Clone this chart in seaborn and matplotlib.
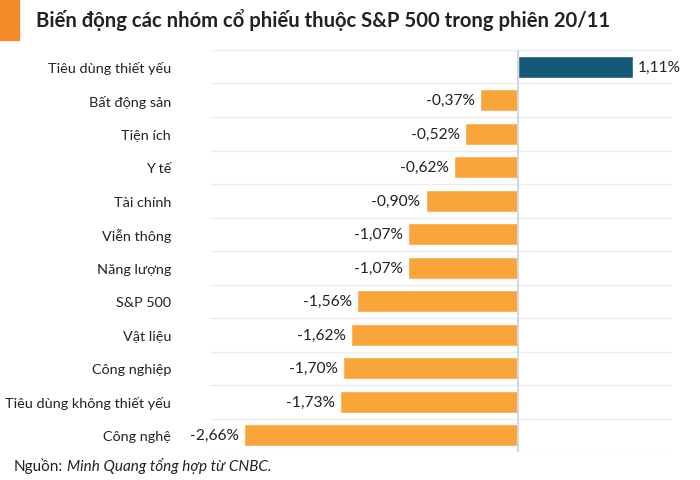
import pandas as pd
import matplotlib.pyplot as plt
import seaborn as sns
from matplotlib.patches import Rectangle

nhom = ['Tiêu dùng thiết yếu', 'Bất động sản', 'Tiện ích', 'Y tế', 'Tài chính',
        'Viễn thông', 'Năng lượng', 'S&P 500', 'Vật liệu', 'Công nghiệp',
        'Tiêu dùng không thiết yếu', 'Công nghệ']
bien_dong = [1.11, -0.37, -0.52, -0.62, -0.90, -1.07, -1.07, -1.56, -1.62, -1.70, -1.73, -2.66]

df = pd.DataFrame({'Nhóm': nhom, 'Biến động': bien_dong})
df['Dấu'] = ['tang' if v > 0 else 'giam' for v in df['Biến động']]

sns.set_style('white')
plt.rcParams['font.family'] = ['Lato', 'DejaVu Sans']

fig = plt.figure(figsize=(7, 4.81), dpi=100)
ax = fig.add_axes([0.30, 0.058, 0.66, 0.836])

sns.barplot(data=df, y='Nhóm', x='Biến động', hue='Dấu', orient='h',
            palette={'tang': '#135A78', 'giam': '#F9A53A'}, width=0.65,
            saturation=1, dodge=False, legend=False, ax=ax)

for i, v in enumerate(df['Biến động']):
    nhan = f'{v:.2f}%'.replace('.', ',')
    if v > 0:
        ax.text(v + 0.05, i, nhan, va='center', ha='left', fontsize=11.2, color='#222222')
    else:
        ax.text(v - 0.05, i, nhan, va='center', ha='right', fontsize=11.2, color='#222222')

ax.set_xlim(-2.99, 1.49)
ax.set_ylim(len(nhom) - 0.5, -0.5)
for k in range(len(nhom) + 1):
    ax.axhline(k - 0.5, color='#EDEEF1', lw=1, zorder=0)
ax.axvline(0, color='#D3D8E0', lw=1.5, zorder=3)

ax.set_xticks([])
ax.set_xlabel('')
ax.set_ylabel('')
ax.tick_params(axis='y', length=0, labelsize=10.4, pad=28, colors='#222222')
for s in ax.spines.values():
    s.set_visible(False)

fig.patches.append(Rectangle((0, 1 - 41 / 481), 19 / 700, 41 / 481,
                             transform=fig.transFigure, color='#F28C28'))
fig.text(36 / 700, 1 - 20 / 481, 'Biến động các nhóm cổ phiếu thuộc S&P 500 trong phiên 20/11',
         fontsize=14.6, fontweight='bold', va='center', ha='left', color='#222222')
fig.text(14 / 700, 1 - 466 / 481, 'Nguồn:', fontsize=11, va='center', ha='left', color='#222222')
fig.text(67 / 700, 1 - 466 / 481, 'Minh Quang tổng hợp từ CNBC.', fontsize=11, style='italic',
         va='center', ha='left', color='#222222')

plt.savefig('out.png', dpi=100)
plt.close()
